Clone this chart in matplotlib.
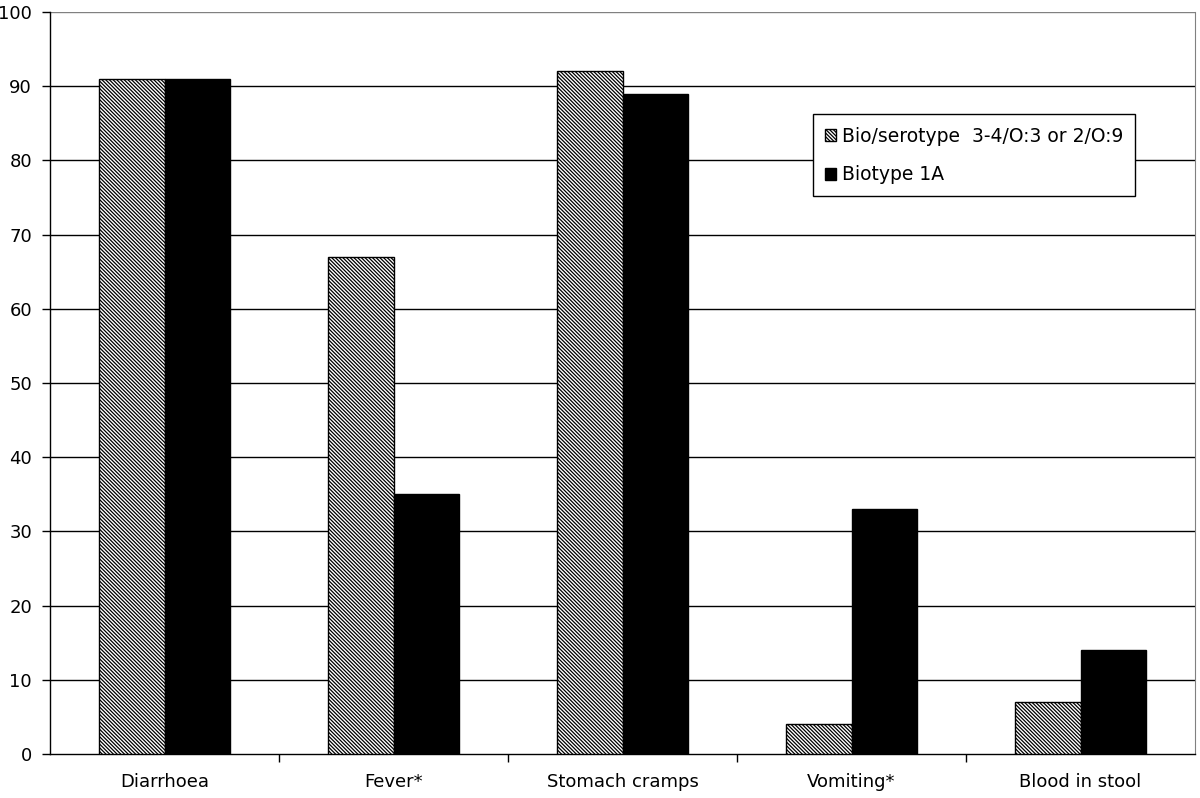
import matplotlib
matplotlib.use('Agg')
import matplotlib.pyplot as plt
import numpy as np

plt.rcParams['font.family'] = ['DejaVu Sans']
plt.rcParams['hatch.linewidth'] = 0.9

categories = ['Diarrhoea', 'Fever*', 'Stomach cramps', 'Vomiting*', 'Blood in stool']
bio_serotype = [91, 67, 92, 4, 7]
biotype_1a = [91, 35, 89, 33, 14]
series_names = ['Bio/serotype  3-4/O:3 or 2/O:9', 'Biotype 1A']
y_ticks = list(range(0, 101, 10))

fig = plt.figure(figsize=(12, 7.98), dpi=100)
ax = fig.add_axes([50 / 1200, 44 / 798, 1145 / 1200, 742 / 798])

x = np.arange(len(categories))
w = 0.284
ax.bar(x - w / 2, bio_serotype, w, color='white', edgecolor='black',
       hatch='\\' * 9, linewidth=1, label=series_names[0], zorder=3)
ax.bar(x + w / 2, biotype_1a, w, color='black', edgecolor='black',
       linewidth=1, label=series_names[1], zorder=3)

ax.set_xlim(-0.5, len(categories) - 0.5)
ax.set_ylim(0, 100)
ax.set_yticks(y_ticks)
for t in y_ticks[1:-1]:
    ax.axhline(t, color='black', linewidth=1, zorder=1)
ax.axhline(100, color='#808080', linewidth=1, zorder=1)

ax.set_xticks(x)
ax.set_xticklabels(categories)
ax.set_xticks(np.arange(0.5, len(categories) - 0.5, 1), minor=True)
ax.tick_params(axis='x', which='major', length=0, pad=14, labelsize=13)
ax.tick_params(axis='x', which='minor', length=6, direction='out', width=1)
ax.tick_params(axis='y', length=6, direction='out', width=1, labelsize=13, pad=7)

ax.spines['top'].set_visible(False)
ax.spines['right'].set_color('#808080')
for s in ['left', 'bottom']:
    ax.spines[s].set_linewidth(1)

leg = ax.legend(loc='upper left', bbox_to_anchor=(0.666, 0.862), fancybox=False,
                framealpha=1, edgecolor='black', fontsize=13.5, handlelength=0.6,
                handleheight=0.6, handletextpad=0.3, borderpad=0.65, labelspacing=1.05,
                borderaxespad=0)
leg.get_frame().set_linewidth(1)

fig.savefig('out.png', dpi=100)
